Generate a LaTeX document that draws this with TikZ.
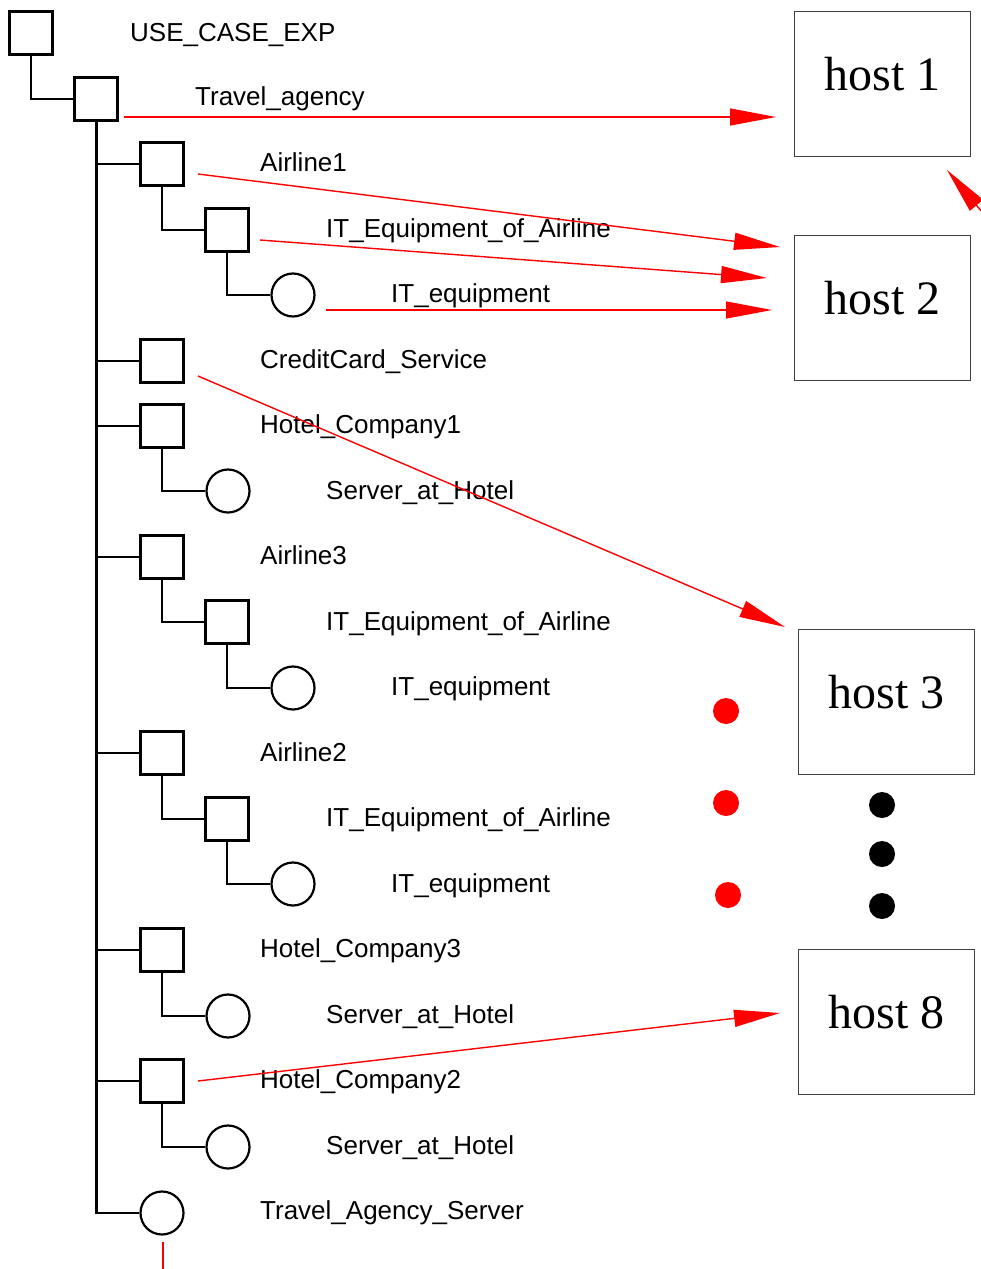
\documentclass[tikz,border=0pt]{standalone}
\usepackage{fontspec}
\setmainfont{Liberation Sans}
\newfontfamily\hostfont{Liberation Serif}
\usetikzlibrary{arrows.meta}
\begin{document}
\begin{tikzpicture}[x=1pt,y=-1pt,
  sq/.style={draw=black,line width=2.2pt,minimum size=43pt,inner sep=0pt},
  ci/.style={draw=black,circle,line width=2.2pt,minimum size=43pt,inner sep=0pt},
  lbl/.style={anchor=base west,inner sep=0pt,font=\fontsize{26}{30}\selectfont},
  host/.style={draw=black!75,line width=1.3pt,minimum width=176pt,inner sep=0pt,
    text height=79pt,text depth=66pt,font=\hostfont\fontsize{48}{56}\selectfont},
  tree/.style={line width=2.2pt,black},
  redarrow/.style={red,line width=1.4pt,-{Triangle[length=46pt,width=17pt]}},
  redline/.style={red,line width=1.4pt}]
\useasboundingbox (0,0) rectangle (981,1269);
\clip (0,0) rectangle (981,1269);
% tree nodes
\node[sq] (r) at (31,33) {};
\node[sq] (ta) at (96,99) {};
\node[sq] (a1) at (162,164) {};
\node[sq] (a1e) at (227,230) {};
\node[ci] (a1c) at (293,295) {};
\node[sq] (cc) at (162,361) {};
\node[sq] (h1) at (162,426) {};
\node[ci] (h1s) at (228,491) {};
\node[sq] (a3) at (162,557) {};
\node[sq] (a3e) at (227,622) {};
\node[ci] (a3c) at (293,688) {};
\node[sq] (a2) at (162,753) {};
\node[sq] (a2e) at (227,819) {};
\node[ci] (a2c) at (293,884) {};
\node[sq] (h3) at (162,950) {};
\node[ci] (h3s) at (228,1016) {};
\node[sq] (h2) at (162,1081) {};
\node[ci] (h2s) at (228,1147) {};
\node[ci] (tas) at (162,1213) {};
% labels
\node[lbl] (l0) at (130,41) {USE\_CASE\_EXP};
\node[lbl] (l1) at (195,105) {Travel\_agency};
\node[lbl] (l2) at (260,171) {Airline1};
\node[lbl] (l3) at (326,237) {IT\_Equipment\_of\_Airline};
\node[lbl] (l4) at (391,302) {IT\_equipment};
\node[lbl] (l5) at (260,368) {CreditCard\_Service};
\node[lbl] (l6) at (260,433) {Hotel\_Company1};
\node[lbl] (l7) at (326,499) {Server\_at\_Hotel};
\node[lbl] (l8) at (260,564) {Airline3};
\node[lbl] (l9) at (326,630) {IT\_Equipment\_of\_Airline};
\node[lbl] (l10) at (391,695) {IT\_equipment};
\node[lbl] (l11) at (260,761) {Airline2};
\node[lbl] (l12) at (326,826) {IT\_Equipment\_of\_Airline};
\node[lbl] (l13) at (391,892) {IT\_equipment};
\node[lbl] (l14) at (260,957) {Hotel\_Company3};
\node[lbl] (l15) at (326,1023) {Server\_at\_Hotel};
\node[lbl] (l16) at (260,1088) {Hotel\_Company2};
\node[lbl] (l17) at (326,1154) {Server\_at\_Hotel};
\node[lbl] (l18) at (260,1219) {Travel\_Agency\_Server};
% tree connectors
\draw[tree] (r.south) |- (ta.west);
\draw[line width=3pt] (ta.south) -- (ta.south |- tas.west);
\foreach \c in {a1,cc,h1,a3,a2,h3,h2,tas}
  \draw[tree] (ta.south) |- (\c.west);
\draw[tree] (a1.south) |- (a1e.west);
\draw[tree] (a1e.south) |- (a1c.west);
\draw[tree] (h1.south) |- (h1s.west);
\draw[tree] (a3.south) |- (a3e.west);
\draw[tree] (a3e.south) |- (a3c.west);
\draw[tree] (a2.south) |- (a2e.west);
\draw[tree] (a2e.south) |- (a2c.west);
\draw[tree] (h3.south) |- (h3s.west);
\draw[tree] (h2.south) |- (h2s.west);
% hosts
\node[host] (host1) at (882.5,84) {host 1};
\node[host] (host2) at (882.5,308) {host 2};
\node[host] (host3) at (886.5,702) {host 3};
\node[host] (host8) at (886.5,1022) {host 8};
% arrow end points
\coordinate (t1) at (124,117);  \coordinate (e1) at (776,117);
\coordinate (t2) at (198,174);  \coordinate (e2) at (780,247);
\coordinate (t3) at (260,240);  \coordinate (e3) at (767,278);
\coordinate (t4) at (326,310);  \coordinate (e4) at (772,310);
\coordinate (t5) at (198,376);  \coordinate (e5) at (785,627);
\coordinate (t6) at (198,1081); \coordinate (e6) at (780,1013);
\coordinate (t7) at (998,231);  \coordinate (e7) at (947,170);
\coordinate (t8) at (163,1242); \coordinate (e8) at (163,1275);
\draw[redarrow] (t1) -- (e1);
\draw[redarrow] (t2) -- (e2);
\draw[redarrow] (t3) -- (e3);
\draw[redarrow] (t4) -- (e4);
\draw[redarrow] (t5) -- (e5);
\draw[redarrow] (t6) -- (e6);
\draw[redarrow] (t7) -- (e7);
\draw[redline] (t8) -- (e8);
% dots
\fill[red] (726,711) circle (13pt);
\fill[red] (726,803) circle (13pt);
\fill[red] (728,895) circle (13pt);
\fill[black] (882,805) circle (13pt);
\fill[black] (882,854) circle (13pt);
\fill[black] (882,906) circle (13pt);
\end{tikzpicture}
\end{document}
